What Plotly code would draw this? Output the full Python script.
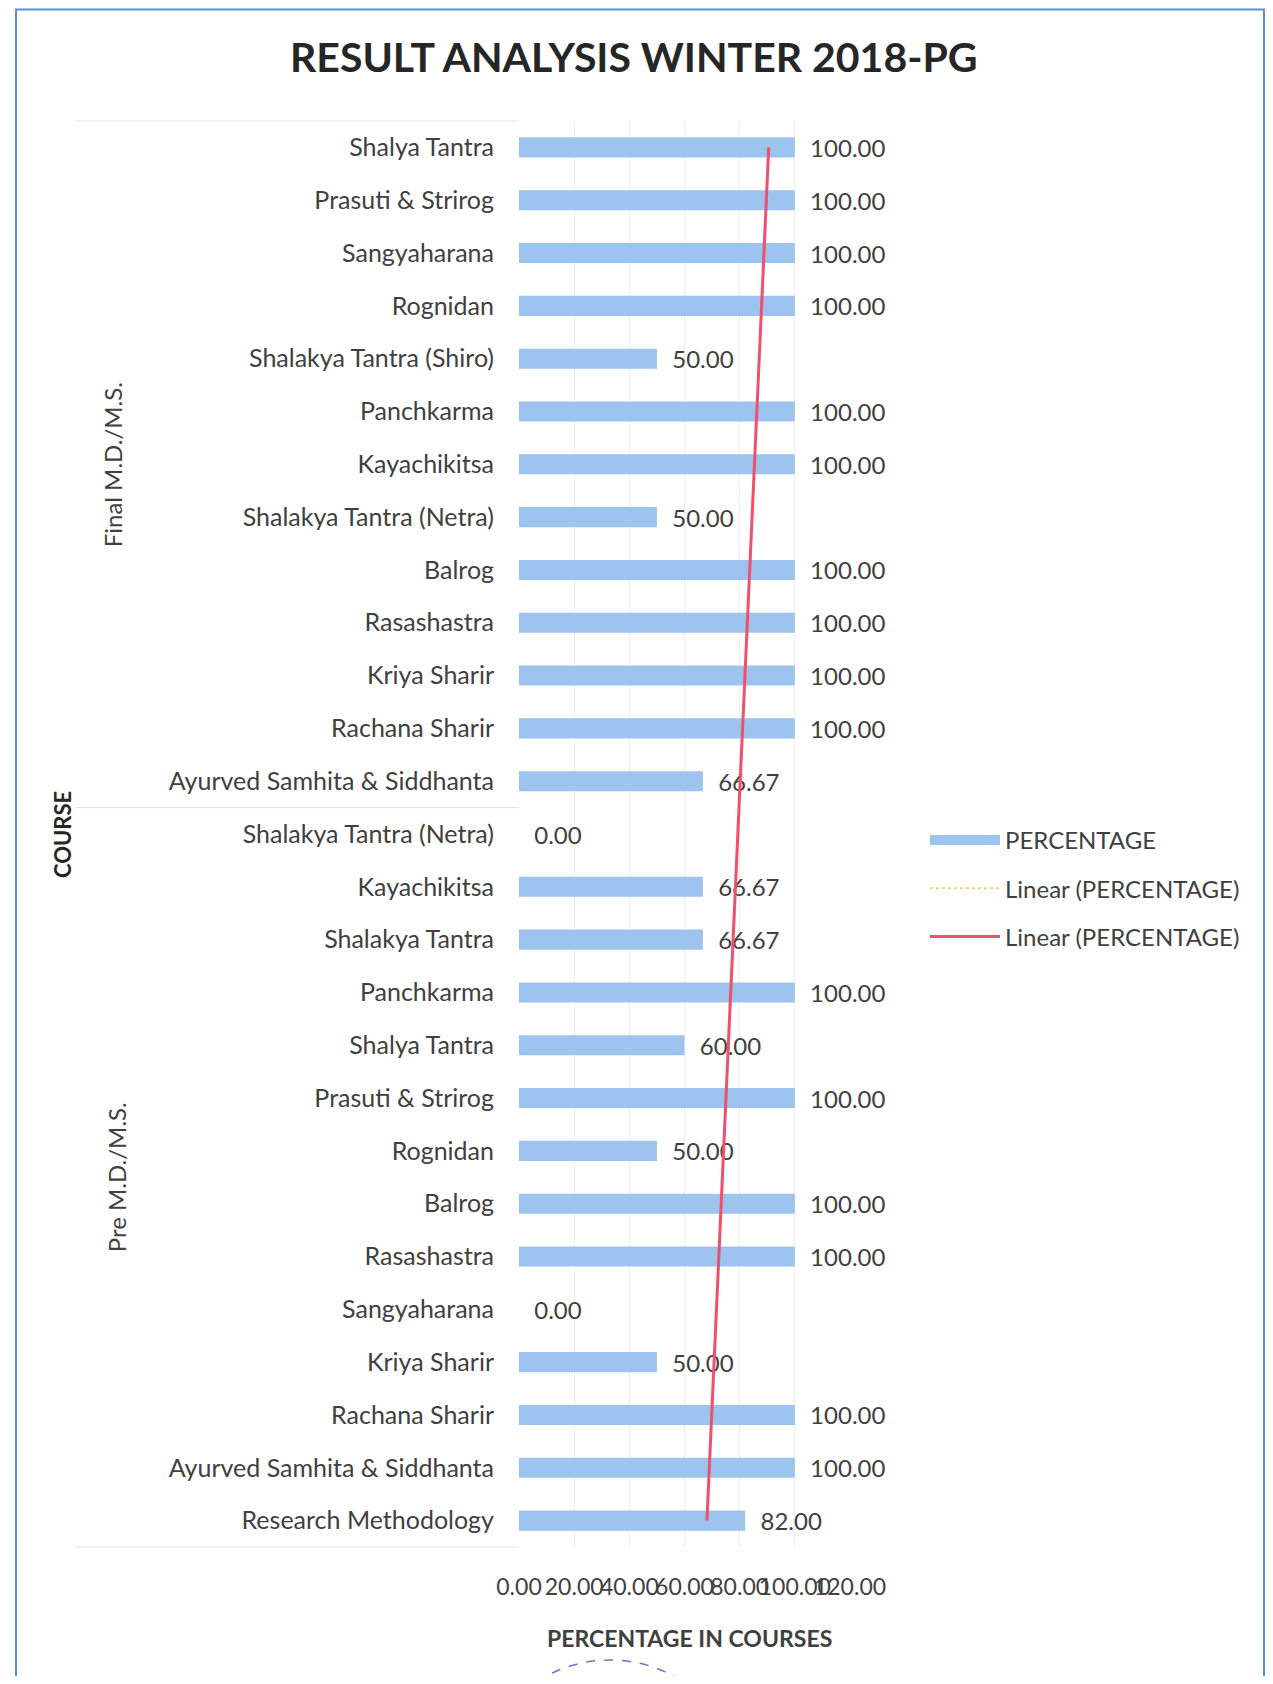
import numpy as np
import plotly.graph_objects as go

# ---- data (bottom -> top, as Excel draws a bar chart) ----
courses = [
    "Research Methodology", "Ayurved Samhita & Siddhanta", "Rachana Sharir", "Kriya Sharir",
    "Sangyaharana", "Rasashastra", "Balrog", "Rognidan", "Prasuti & Strirog", "Shalya Tantra",
    "Panchkarma", "Shalakya Tantra", "Kayachikitsa", "Shalakya Tantra (Netra)",
    "Ayurved Samhita & Siddhanta", "Rachana Sharir", "Kriya Sharir", "Rasashastra", "Balrog",
    "Shalakya Tantra (Netra)", "Kayachikitsa", "Panchkarma", "Shalakya Tantra (Shiro)",
    "Rognidan", "Sangyaharana", "Prasuti & Strirog", "Shalya Tantra",
]
groups = ["Pre M.D./M.S."] * 14 + ["Final M.D./M.S."] * 13
percentage = [
    82.00, 100.00, 100.00, 50.00, 0.00, 100.00, 100.00, 50.00, 100.00, 60.00,
    100.00, 66.67, 66.67, 0.00,
    66.67, 100.00, 100.00, 100.00, 100.00, 50.00, 100.00, 100.00, 50.00,
    100.00, 100.00, 100.00, 100.00,
]
x_ticks = [0, 20, 40, 60, 80, 100, 120]
x_tick_labels = ["0.00", "20.00", "40.00", "60.00", "80.00", "100.00", "120.00"]

# ---- pixel layout helpers (reference-page pixels; page body has an 8px margin) ----
OFF = 8
FW, FH = 1273 - 2 * OFF, 1684 - 2 * OFF
L, R, T, B = 519 - OFF, 850 - OFF, 121 - OFF, 1547 - OFF
W, H = R - L, B - T


def px(x):
    return (x - OFF - L) / W


def py(y):
    return (B - (y - OFF)) / H


idx = list(range(len(courses)))
slope, intercept = np.polyfit(idx, percentage, 1)
trend_y = [idx[0], idx[-1]]
trend_x = [intercept + slope * idx[0], intercept + slope * idx[-1]]

TXT = "#404040"
FONT = "Lato"
BLUE = "#9DC3EF"

fig = go.Figure()
fig.add_trace(go.Bar(
    y=idx, x=percentage, orientation="h", width=0.38,
    marker=dict(color=BLUE, line=dict(width=0)),
    name="PERCENTAGE", showlegend=False,
    text=["\u00a0\u00a0%.2f" % v for v in percentage],
    textposition="outside", cliponaxis=False, constraintext="none",
    textfont=dict(size=24, color=TXT, family=FONT),
))
# legend entry shaped like Excel's wide bar swatch
fig.add_trace(go.Scatter(
    y=[None], x=[None], mode="lines", name="PERCENTAGE", legendgroup="a",
    line=dict(color=BLUE, width=12),
))
fig.add_trace(go.Scatter(
    y=trend_y, x=trend_x, mode="lines", name="Linear (PERCENTAGE)", legendgroup="b",
    line=dict(color="#E6D77A", width=2, dash="dot"),
))
fig.add_trace(go.Scatter(
    y=trend_y, x=trend_x, mode="lines", name="Linear (PERCENTAGE)", legendgroup="c",
    line=dict(color="#F0506E", width=3),
))

shapes = []
line_col = "#E4E4E4"
for yy in [121, 1547, 121 + (1547 - 121) * (13 / 27)]:
    shapes.append(dict(type="line", xref="paper", yref="paper",
                       x0=px(75), x1=px(519), y0=py(yy), y1=py(yy),
                       line=dict(color=line_col, width=1)))
# outer blue frame
shapes.append(dict(type="rect", xref="paper", yref="paper",
                   x0=px(16), x1=px(1264), y0=py(1720), y1=py(9.5),
                   line=dict(color="#5B8ED8", width=2), layer="below"))
# stamp fragment
shapes.append(dict(type="circle", xref="paper", yref="paper",
                   x0=px(475), x1=px(745), y0=py(1930), y1=py(1660),
                   line=dict(color="#7B6BC8", width=1.5, dash="dash")))
shapes.append(dict(type="circle", xref="paper", yref="paper",
                   x0=px(515), x1=px(705), y0=py(1880), y1=py(1690),
                   line=dict(color="#6A5AC0", width=2)))

annotations = [
    dict(text="<b>RESULT ANALYSIS WINTER 2018-PG</b>", xref="paper", yref="paper",
         x=px(634), y=py(56), showarrow=False, xanchor="center", yanchor="middle",
         font=dict(size=41, color="#262626", family=FONT)),
    dict(text="<b>PERCENTAGE IN COURSES</b>", xref="paper", yref="paper",
         x=px(689), y=py(1638), showarrow=False, xanchor="center", yanchor="middle",
         font=dict(size=23, color=TXT, family=FONT)),
    dict(text="<b>COURSE</b>", xref="paper", yref="paper",
         x=px(62), y=py(835), showarrow=False, textangle=-90,
         xanchor="center", yanchor="middle",
         font=dict(size=22, color="#262626", family=FONT)),
    dict(text="Final M.D./M.S.", xref="paper", yref="y",
         x=px(112), y=(idx[14] + idx[-1]) / 2, showarrow=False, textangle=-90,
         xanchor="center", yanchor="middle",
         font=dict(size=24, color=TXT, family=FONT)),
    dict(text="Pre M.D./M.S.", xref="paper", yref="y",
         x=px(116), y=(idx[0] + idx[13]) / 2, showarrow=False, textangle=-90,
         xanchor="center", yanchor="middle",
         font=dict(size=24, color=TXT, family=FONT)),
]

fig.update_layout(
    width=FW, height=FH,
    margin=dict(l=L, r=FW - R, t=T, b=FH - B),
    paper_bgcolor="white", plot_bgcolor="white",
    showlegend=True,
    legend=dict(x=px(925), y=py(818), xanchor="left", yanchor="top",
                font=dict(size=24, color=TXT, family=FONT),
                tracegroupgap=14, itemwidth=70, bgcolor="rgba(0,0,0,0)"),
    shapes=shapes, annotations=annotations,
)
fig.update_xaxes(range=[0, 120], tickvals=x_ticks, ticktext=x_tick_labels, tickangle=0,
                 showgrid=True, gridcolor="#EEEEEE", gridwidth=1, zeroline=False,
                 showline=False, ticks="", ticklabelstandoff=24,
                 tickfont=dict(size=23, color=TXT, family=FONT))
fig.update_yaxes(range=[-0.5, len(courses) - 0.5], tickvals=idx, ticktext=courses,
                 showgrid=False, zeroline=False, showline=False, ticks="",
                 ticklabelstandoff=24,
                 tickfont=dict(size=25, color=TXT, family=FONT))

fig.write_html("out.html")
